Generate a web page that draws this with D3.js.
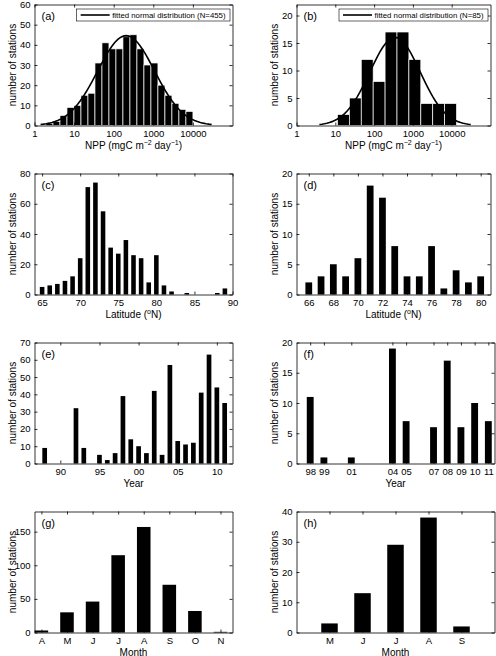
<!DOCTYPE html>
<html><head><meta charset="utf-8">
<script src="https://cdn.jsdelivr.net/npm/d3@7"></script>
<style>
body{margin:0;background:#fff}
svg{display:block}
text{font-family:"Liberation Sans",Arial,Helvetica,sans-serif;fill:#000}
</style>
</head><body><script>
// ---------------- DATA ----------------
// (a) NPP histogram, all stations (log10 bins)
const nppCountsAll = [1,2,5,9,10,15,16,31,41,38,38,44,45,38,30,31,20,15,11,8,7];
const nppBinStartAll = 0.29;      // log10 of first bin edge
const nppBinWidthAll = 0.1767;    // log10 bin width
const nppFitAll = [2.314, 0.72, 455]; // mean(log10), sd, N
// (b) NPP histogram, subset
const nppCountsSub = [2,5,12,8,17,17,12,4,4,4];
const nppBinStartSub = 1.055;
const nppBinWidthSub = 0.307;
const nppFitSub = [2.54, 0.65, 85];
const nppTicks = [1,10,100,1000,10000];
const nppTickLabels = ["1","10","100","1000","10000"];

// (c) latitude, all
const latAll = [65,66,67,68,69,70,71,72,73,74,75,76,77,78,79,80,81,82,83,84,85,86,87,88,89];
const latCountsAll = [5,6,7,9,12,24,71,74,55,31,27,36,26,24,8,26,6,2,0,1,0,0,0,1,4];
const latTicksAll = [65,70,75,80,85,90];
// (d) latitude, subset
const latSub = [66,67,68,69,70,71,72,73,74,75,76,77,78,79,80];
const latCountsSub = [2,3,5,3,6,18,16,8,3,3,8,1,4,2,3];
const latTicksSub = [66,68,70,72,74,76,78,80];

// (e) year, all
const yearsAll = [1988,1989,1990,1991,1992,1993,1994,1995,1996,1997,1998,1999,2000,2001,2002,2003,2004,2005,2006,2007,2008,2009,2010,2011];
const yearCountsAll = [9,0,0,0,32,9,0,5,2,6,39,14,10,6,42,5,57,13,11,12,41,63,44,35];
const yearTicksAll = [1990,1995,2000,2005,2010];
const yearTickLabelsAll = ["90","95","00","05","10"];
// (f) year, subset
const yearsSub = [1998,1999,2001,2004,2005,2007,2008,2009,2010,2011];
const yearCountsSub = [11,1,1,19,7,6,17,6,10,7];
const yearTickLabelsSub = ["98","99","01","04","05","07","08","09","10","11"];

// (g) month, all
const monthsAll = [4,5,6,7,8,9,10,11];
const monthLabelsAll = ["A","M","J","J","A","S","O","N"];
const monthCountsAll = [3,30,46,115,157,71,32,1];
// (h) month, subset
const monthsSub = [5,6,7,8,9];
const monthLabelsSub = ["M","J","J","A","S"];
const monthCountsSub = [3,13,29,38,2];

// ---------------- LAYOUT ----------------
const W = 496, H = 656;
const colL = [34.5, 232.5], colR = [296.5, 490.5], colR2 = [296.5, 494.5];
const rows = [[4.5,125.5],[173.5,294.5],[342.5,463.5],[511.5,632.5]];
const TICK_FS = 9.5, LABEL_FS = 10;

const svg = d3.select("body").append("svg").attr("width", W).attr("height", H);

function drawFrame(p) {
  const g = svg.append("g");
  const [x0,x1] = p.col, [y0,y1] = p.row;
  const xb = g.append("g").attr("transform",`translate(0,${y1})`)
    .call(d3.axisBottom(p.x).tickValues(p.xTicks).tickFormat((d,i)=>p.xLabels[i]).tickSize(-3).tickSizeOuter(0).tickPadding(5));
  const xt = g.append("g").attr("transform",`translate(0,${y0})`)
    .call(d3.axisTop(p.x).tickValues(p.xTicks).tickFormat("").tickSize(-3).tickSizeOuter(0));
  const yl = g.append("g").attr("transform",`translate(${x0},0)`)
    .call(d3.axisLeft(p.y).tickValues(p.yTicks).tickSize(-3).tickSizeOuter(0).tickPadding(4));
  const yr = g.append("g").attr("transform",`translate(${x1},0)`)
    .call(d3.axisRight(p.y).tickValues(p.yTicks).tickFormat("").tickSize(-3).tickSizeOuter(0));
  [xb,xt,yl,yr].forEach(a=>{
    a.attr("font-family",null).attr("font-size",null);
    a.selectAll("text").attr("font-size",TICK_FS).style("fill","#000");
    a.selectAll("line").attr("stroke","#000").attr("stroke-width",0.8);
    a.select(".domain").attr("stroke","#000").attr("stroke-width",0.8);
  });
  g.append("text").attr("transform",`translate(${x0-19},${(y0+y1)/2}) rotate(-90)`)
    .attr("text-anchor","middle").attr("font-size",LABEL_FS).text("number of stations");
  g.append("text").attr("x",x0+7).attr("y",y0+15).attr("font-size",11).text(p.letter);
  const xl = g.append("text").attr("x",(x0+x1)/2).attr("y",y1+23)
    .attr("text-anchor","middle").attr("font-size",LABEL_FS);
  p.xTitle(xl);
  return g;
}

function nppTitle(t) {
  t.append("tspan").text("NPP (mgC m");
  t.append("tspan").attr("dy",-4).attr("font-size",7).text("\u22122");
  t.append("tspan").attr("dy",4).text(" day");
  t.append("tspan").attr("dy",-4).attr("font-size",7).text("\u22121");
  t.append("tspan").attr("dy",4).text(")");
}
function latTitle(t) {
  t.append("tspan").text("Latitude (");
  t.append("tspan").attr("dy",-4).attr("font-size",7).text("o");
  t.append("tspan").attr("dy",4).text("N)");
}

function histPanel(col,row,letter,counts,start,bw,fit,yMax,yTicks) {
  const x = d3.scaleLog().domain([1,1e5]).range(col);
  const y = d3.scaleLinear().domain([0,yMax]).range([row[1],row[0]]);
  const g = svg.append("g");
  counts.forEach((c,k)=>{
    const a = Math.pow(10,start+k*bw), b = Math.pow(10,start+(k+1)*bw);
    g.append("rect").attr("x",x(a)).attr("width",x(b)-x(a))
      .attr("y",y(c)).attr("height",y(0)-y(c))
      .attr("fill","#000").attr("stroke","#fff").attr("stroke-width",0.7);
  });
  const [mu,sd,n] = fit;
  const pts = d3.range(-30,31).map(i=>{
    const v = mu + i*0.1*sd;
    const pdf = Math.exp(-0.5*((v-mu)/sd)**2)/(sd*Math.sqrt(2*Math.PI));
    return [Math.pow(10,v), n*bw*pdf];
  });
  g.append("path").datum(pts)
    .attr("d",d3.line().x(d=>x(d[0])).y(d=>y(d[1])))
    .attr("fill","none").attr("stroke","#000").attr("stroke-width",1.6);
  drawFrame({col,row,letter,x,y,xTicks:nppTicks,xLabels:nppTickLabels,yTicks,xTitle:nppTitle});
  const lg = svg.append("g");
  const label = `fitted normal distribution (N=${n})`;
  const txt = lg.append("text").attr("font-size",7.8).attr("y",row[0]+13.2).text(label);
  const w = txt.node().getComputedTextLength();
  const bx1 = col[1]-2.5, bx0 = bx1 - (w + 40);
  lg.insert("rect","text").attr("x",bx0).attr("y",row[0]+4.5).attr("width",bx1-bx0).attr("height",12)
    .attr("fill","#fff").attr("stroke","#000").attr("stroke-width",0.6);
  lg.append("line").attr("x1",bx0+4).attr("x2",bx0+33).attr("y1",row[0]+10.5).attr("y2",row[0]+10.5)
    .attr("stroke","#000").attr("stroke-width",1.6);
  txt.attr("x",bx0+35.5);
}

function barPanel(col,row,letter,cats,counts,domain,bw,yMax,yTicks,xTicks,xLabels,xTitle) {
  const x = d3.scaleLinear().domain(domain).range(col);
  const y = d3.scaleLinear().domain([0,yMax]).range([row[1],row[0]]);
  const g = svg.append("g");
  cats.forEach((c,i)=>{
    const v = counts[i];
    if (v<=0) return;
    g.append("rect").attr("x",x(c-bw/2)).attr("width",x(c+bw/2)-x(c-bw/2))
      .attr("y",y(v)).attr("height",y(0)-y(v)).attr("fill","#000");
  });
  drawFrame({col,row,letter,x,y,xTicks,xLabels,yTicks,xTitle});
}

histPanel(colL,rows[0],"(a)",nppCountsAll,nppBinStartAll,nppBinWidthAll,nppFitAll,60,[0,10,20,30,40,50,60]);
histPanel(colR,rows[0],"(b)",nppCountsSub,nppBinStartSub,nppBinWidthSub,nppFitSub,22,[0,5,10,15,20]);

barPanel(colL,rows[1],"(c)",latAll,latCountsAll,[64,90],0.6,80,[0,20,40,60,80],
  latTicksAll,latTicksAll.map(String),latTitle);
barPanel(colR,rows[1],"(d)",latSub,latCountsSub,[65,80.8],0.55,20,[0,5,10,15,20],
  latTicksSub,latTicksSub.map(String),latTitle);

barPanel(colL,rows[2],"(e)",yearsAll,yearCountsAll,[1986.7,2012],0.6,70,[0,10,20,30,40,50,60,70],
  yearTicksAll,yearTickLabelsAll,t=>t.text("Year"));
barPanel(colR2,rows[2],"(f)",yearsSub,yearCountsSub,[1997,2011.45],0.5,20,[0,5,10,15,20],
  yearsSub,yearTickLabelsSub,t=>t.text("Year"));

barPanel(colL,rows[3],"(g)",monthsAll,monthCountsAll,[3.73,11.47],0.53,180,[0,50,100,150],
  monthsAll,monthLabelsAll,t=>t.text("Month"));
barPanel(colR2,rows[3],"(h)",monthsSub,monthCountsSub,[4,10],0.5,40,[0,10,20,30,40],
  monthsSub,monthLabelsSub,t=>t.text("Month"));
</script></body></html>
